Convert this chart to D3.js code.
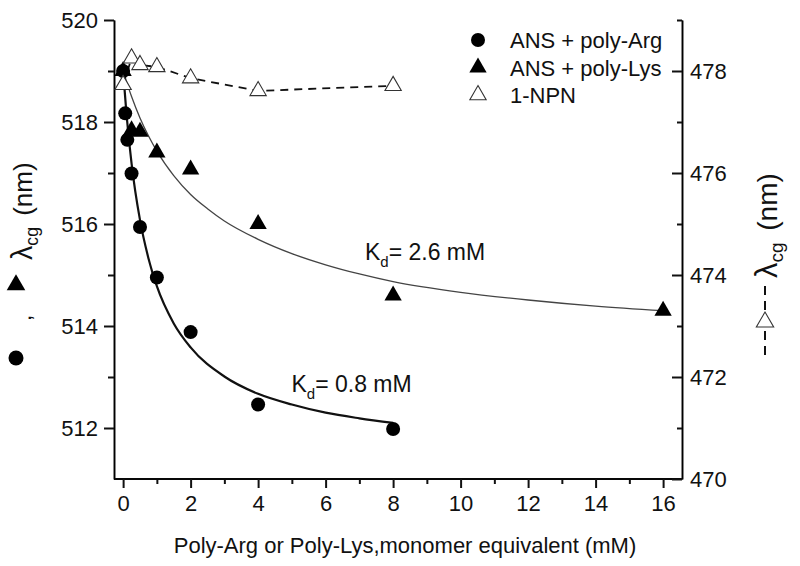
<!DOCTYPE html>
<html><head><meta charset="utf-8">
<script src="https://cdn.jsdelivr.net/npm/d3@7"></script>
<style>body{margin:0;background:#fff}svg text{font-family:"Liberation Sans",Arial,sans-serif;fill:#111}</style>
</head><body><svg id="c" width="800" height="566"></svg>
<script>
// measured data
const argX = [0, 0.0625, 0.125, 0.25, 0.5, 1, 2, 4, 8];
const argY = [519.0, 518.17, 517.65, 516.99, 515.94, 514.95, 513.88, 512.46, 511.98];
const lysX = [0, 0.25, 0.5, 1, 2, 4, 8, 16];
const lysY = [519.0, 517.84, 517.81, 517.4, 517.07, 516.0, 514.6, 514.3];
const npnX = [0, 0.25, 0.5, 1, 2, 4, 8];
const npnY = [477.73, 478.25, 478.12, 478.08, 477.86, 477.61, 477.71];
// fitted curves
const argFitX = [0, 0.1, 0.25, 0.5, 0.75, 1, 1.5, 2, 3, 4, 5, 6, 7, 8];
const argFitY = [519.0, 518.16, 517.19, 516.08, 515.33, 514.78, 514.05, 513.58, 513.01, 512.67, 512.46, 512.30, 512.19, 512.10];
const lysFitX = [0, 0.25, 0.5, 0.75, 1, 1.5, 2, 2.5, 3, 4, 5, 6, 7, 8, 10, 12, 14, 16];
const lysFitY = [519.0, 518.5, 518.08, 517.73, 517.43, 516.95, 516.58, 516.3, 516.06, 515.7, 515.42, 515.2, 515.02, 514.87, 514.66, 514.51, 514.39, 514.3];
// ticks
const xMajor = [0, 2, 4, 6, 8, 10, 12, 14, 16];
const xMinor = [1, 3, 5, 7, 9, 11, 13, 15];
const leftMajor = [512, 514, 516, 518, 520];
const leftMinor = [513, 515, 517, 519];
const rightMajor = [470, 472, 474, 476, 478];
const rightMinor = [471, 473, 475, 477, 479];
const legendLabels = ["ANS + poly-Arg", "ANS + poly-Lys", "1-NPN"];

const svg = d3.select("#c");
const x = d3.scaleLinear().domain([-0.27, 16.56]).range([114, 682]);
const yL = d3.scaleLinear().domain([511, 520]).range([479, 20]);
const yR = d3.scaleLinear().domain([470, 479]).range([479, 20]);
const FS = 22;

function styleAxis(g){
  g.select(".domain").attr("stroke","#111").attr("stroke-width",2);
  g.selectAll(".tick line").attr("stroke","#111").attr("stroke-width",2);
  g.selectAll(".tick text").style("font-size",FS+"px").attr("fill","#111");
}
// bottom axis
const gB = svg.append("g").attr("transform","translate(0,479)");
gB.call(d3.axisBottom(x).tickValues(xMinor).tickSize(5).tickFormat("").tickSizeOuter(0));
gB.append("g").call(d3.axisBottom(x).tickValues(xMajor).tickSize(9).tickPadding(7).tickSizeOuter(0));
styleAxis(gB); gB.selectAll(".domain").attr("d","M114,0H682");
// left axis
const gL = svg.append("g").attr("transform","translate(114,0)");
gL.call(d3.axisLeft(yL).tickValues(leftMinor).tickSize(6).tickFormat("").tickSizeOuter(0));
gL.append("g").call(d3.axisLeft(yL).tickValues(leftMajor).tickSize(10).tickPadding(6).tickSizeOuter(0));
styleAxis(gL);
// right axis (ticks inward)
const gR = svg.append("g").attr("transform","translate(682,0)");
gR.call(d3.axisLeft(yR).tickValues(rightMinor).tickSize(5).tickFormat("").tickSizeOuter(0));
const gR2 = gR.append("g").call(d3.axisLeft(yR).tickValues(rightMajor).tickSize(10).tickSizeOuter(0));
styleAxis(gR);
gR2.selectAll(".tick text").attr("x",8).attr("text-anchor","start");

// curves
const lineL = (xs, ys, curve) => d3.line().x((d,i)=>x(xs[i])).y((d,i)=>yL(ys[i])).curve(curve)(xs);
svg.append("path").attr("d", lineL(lysFitX, lysFitY, d3.curveMonotoneX))
  .attr("fill","none").attr("stroke","#444").attr("stroke-width",1.3);
svg.append("path").attr("d", lineL(argFitX, argFitY, d3.curveMonotoneX))
  .attr("fill","none").attr("stroke","#111").attr("stroke-width",2.2);
svg.append("path").attr("d", d3.line().x((d,i)=>x(npnX[i])).y((d,i)=>yR(npnY[i]))(npnX))
  .attr("fill","none").attr("stroke","#111").attr("stroke-width",1.8).attr("stroke-dasharray","8,6");

const triF = d3.symbol().type(d3.symbolTriangle).size(130)();
const triO = d3.symbol().type(d3.symbolTriangle).size(115)();
// markers
svg.append("g").selectAll("path").data(lysX).join("path").attr("d",triF)
  .attr("transform",(d,i)=>`translate(${x(d)},${yL(lysY[i])})`).attr("fill","#000");
svg.append("g").selectAll("circle").data(argX).join("circle")
  .attr("cx",d=>x(d)).attr("cy",(d,i)=>yL(argY[i])).attr("r",7).attr("fill","#000");
svg.append("g").selectAll("path").data(npnX).join("path").attr("d",triO)
  .attr("transform",(d,i)=>`translate(${x(d)},${yR(npnY[i])})`).attr("fill","#fff").attr("stroke","#333").attr("stroke-width",1.1);

// legend
const lg = svg.append("g");
lg.append("circle").attr("cx",478).attr("cy",40).attr("r",7).attr("fill","#000");
lg.append("path").attr("d",triF).attr("transform","translate(478,67.5)").attr("fill","#000");
lg.append("path").attr("d",triO).attr("transform","translate(478,95)").attr("fill","#fff").attr("stroke","#333").attr("stroke-width",1.1);
lg.selectAll("text").data(legendLabels).join("text")
  .attr("x",510).attr("y",(d,i)=>48+i*27.5).style("font-size",FS+"px").text(d=>d);

// Kd labels
function kd(xp, yp, val){
  const t = svg.append("text").attr("x",xp).attr("y",yp).style("font-size","23px");
  t.append("tspan").text("K");
  t.append("tspan").attr("dy",7).style("font-size","15px").text("d");
  t.append("tspan").attr("dy",-7).text("= " + val + " mM");
}
kd(365, 260, "2.6");
kd(291.5, 391.5, "0.8");

// x axis title
svg.append("text").attr("x",405).attr("y",553).attr("text-anchor","middle")
  .style("font-size",FS+"px").text("Poly-Arg or Poly-Lys,monomer equivalent (mM)");

// y labels
function ylab(xb, ystart, fs){
  const t = svg.append("text").attr("transform",`translate(${xb},${ystart}) rotate(-90)`).style("font-size",fs+"px");
  t.append("tspan").style("font-size",(fs*1.1)+"px").text("λ");
  t.append("tspan").attr("dy",6).style("font-size",(fs*0.68)+"px").text("cg");
  t.append("tspan").attr("dy",-6).attr("dx",4).text(" (nm)");
}
ylab(32, 260, 26);
svg.append("path").attr("d",d3.symbol().type(d3.symbolTriangle).size(150)()).attr("transform","translate(16,285)").attr("fill","#000");
svg.append("text").attr("transform","translate(31,321) rotate(-90)").style("font-size","22px").text(",");
svg.append("circle").attr("cx",16).attr("cy",358).attr("r",7.5).attr("fill","#000");

ylab(777, 278, 28);
svg.append("line").attr("x1",765).attr("x2",765).attr("y1",286).attr("y2",358)
  .attr("stroke","#111").attr("stroke-width",2).attr("stroke-dasharray","9,6");
svg.append("path").attr("d",d3.symbol().type(d3.symbolTriangle).size(130)()).attr("transform","translate(765,322)")
  .attr("fill","#fff").attr("stroke","#333").attr("stroke-width",1.1);
</script></body></html>
